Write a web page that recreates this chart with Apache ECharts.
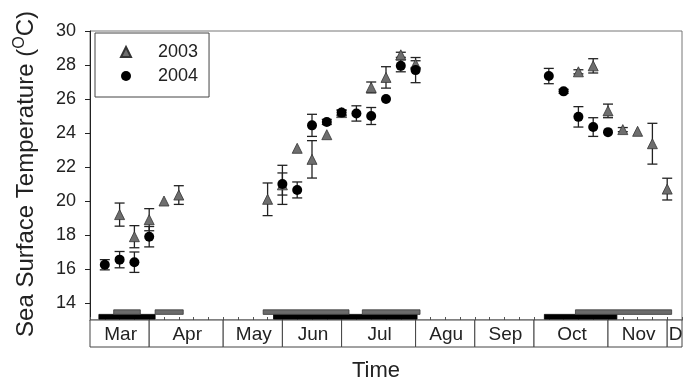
<!DOCTYPE html>
<html lang="en">
<head>
    <meta charset="UTF-8">
    <title>Sea Surface Temperature</title>
    <style>
        * { margin: 0; padding: 0; }
        html, body { width: 100%; height: 100%; background: #fff; }
        #charts { width: 689px; height: 385px; }
    </style>
    <script src="https://cdn.jsdelivr.net/npm/echarts@6/dist/echarts.min.js"></script>
</head>
<body>
<div id="charts"></div>
<script>
    // x axis is in weeks from 1 March
    var monthNames = ['Mar', 'Apr', 'May', 'Jun', 'Jul', 'Agu', 'Sep', 'Oct', 'Nov', 'D'];
    var monthStarts = [0, 4, 9, 13, 17, 22, 26, 30, 35, 39];
    var weekMax = 40;
    var yTicks = [14, 16, 18, 20, 22, 24, 26, 28, 30];

    // 2003 (triangles)
    var weeks2003 = [2, 3, 4, 5, 6, 12, 13, 14, 15, 16, 17, 19, 20, 21, 22, 33, 34, 35, 36, 37, 38, 39];
    var temp2003 = [19.2, 17.9, 18.9, 20.0, 20.35, 20.1, 20.95, 23.1, 22.45, 23.9, 25.2, 26.68, 27.27, 28.6, 28.05, 27.6, 27.95, 25.3, 24.2, 24.1, 23.37, 20.7];
    var se2003 = [0.68, 0.65, 0.65, 0, 0.55, 0.96, 1.15, 0, 1.1, 0, 0.15, 0.32, 0.63, 0.15, 0.2, 0.12, 0.42, 0.4, 0.12, 0, 1.2, 0.64];

    // 2004 (circles)
    var weeks2004 = [1, 2, 3, 4, 13, 14, 15, 16, 17, 18, 19, 20, 21, 22, 31, 32, 33, 34, 35];
    var temp2004 = [16.25, 16.55, 16.4, 17.9, 21.0, 20.65, 24.45, 24.65, 25.2, 25.15, 25.0, 26.0, 27.95, 27.7, 27.35, 26.45, 24.95, 24.35, 24.05];
    var se2004 = [0.3, 0.48, 0.6, 0.6, 0.65, 0.47, 0.65, 0.15, 0.15, 0.45, 0.5, 0, 0.35, 0.74, 0.45, 0.12, 0.6, 0.55, 0];

    // sampling periods shown as bars above the time axis
    var period2003 = [[1.6, 3.4], [4.4, 6.3], [11.7, 17.5], [18.4, 22.3], [32.8, 39.3]];
    var period2004 = [[0.6, 4.4], [12.4, 22.1], [30.7, 35.6]];

    var font = '"Liberation Sans", Arial, sans-serif';

    function points(weeks, temps) {
        var out = [];
        for (var i = 0; i < weeks.length; i++) out.push([weeks[i], temps[i]]);
        return out;
    }
    function errors(weeks, temps, se) {
        var out = [];
        for (var i = 0; i < weeks.length; i++) {
            if (se[i] > 0) out.push([weeks[i], temps[i] - se[i], temps[i] + se[i]]);
        }
        return out;
    }

    function renderError(params, api) {
        var top = api.coord([api.value(0), api.value(2)]);
        var bot = api.coord([api.value(0), api.value(1)]);
        var w = 5;
        var st = { stroke: '#222', lineWidth: 1.3 };
        return {
            type: 'group',
            children: [
                { type: 'line', shape: { x1: top[0], y1: top[1], x2: bot[0], y2: bot[1] }, style: st },
                { type: 'line', shape: { x1: top[0] - w, y1: top[1], x2: top[0] + w, y2: top[1] }, style: st },
                { type: 'line', shape: { x1: bot[0] - w, y1: bot[1], x2: bot[0] + w, y2: bot[1] }, style: st }
            ]
        };
    }

    function periodRender(lo, hi, fill, stroke) {
        return function (params, api) {
            var p0 = api.coord([api.value(0), hi]);
            var p1 = api.coord([api.value(1), lo]);
            return {
                type: 'rect',
                shape: { x: p0[0], y: p0[1], width: p1[0] - p0[0], height: p1[1] - p0[1] },
                style: { fill: fill, stroke: stroke, lineWidth: 0.8 }
            };
        };
    }

    var monthData = [];
    for (var m = 0; m < monthNames.length; m++) {
        var end = m + 1 < monthStarts.length ? monthStarts[m + 1] : weekMax;
        monthData.push([monthStarts[m], end, monthNames[m]]);
    }

    function renderMonth(params, api) {
        var p0 = api.coord([api.value(0), 1]);
        var p1 = api.coord([api.value(1), 0]);
        return {
            type: 'group',
            children: [
                {
                    type: 'rect',
                    shape: { x: p0[0], y: p0[1], width: p1[0] - p0[0], height: p1[1] - p0[1] },
                    style: { fill: '#fff', stroke: '#444', lineWidth: 1 }
                },
                {
                    type: 'text',
                    x: (p0[0] + p1[0]) / 2 + 1,
                    y: (p0[1] + p1[1]) / 2 + 1,
                    style: {
                        text: monthData[params.dataIndex][2],
                        font: '19px ' + font,
                        fill: '#222',
                        align: 'center',
                        verticalAlign: 'middle'
                    }
                }
            ]
        };
    }

    var option = {
        backgroundColor: '#fff',
        animation: false,
        grid: [
            { left: 90, right: 7, top: 31, height: 289, show: true, borderColor: '#777', borderWidth: 1 },
            { left: 90, right: 7, top: 320, height: 27 }
        ],
        legend: {
            orient: 'vertical',
            left: 95,
            top: 33,
            padding: [10, 11, 12, 25],
            itemGap: 6,
            itemWidth: 10,
            itemHeight: 10,
            borderColor: '#444',
            borderWidth: 1,
            backgroundColor: '#fff',
            data: ['2003', '2004'],
            textStyle: { fontSize: 18, fontFamily: font, color: '#222', lineHeight: 18, padding: [0, 0, 0, 22] }
        },
        xAxis: [{
            type: 'value',
            gridIndex: 0,
            min: 0,
            max: weekMax,
            interval: 1,
            axisLine: { lineStyle: { color: '#555', width: 1 } },
            axisTick: { inside: true, length: 3, lineStyle: { color: '#555' } },
            axisLabel: { show: false },
            splitLine: { show: false }
        }, {
            type: 'value',
            gridIndex: 1,
            min: 0,
            max: weekMax,
            show: false
        }],
        yAxis: [{
            type: 'value',
            gridIndex: 0,
            min: 13,
            max: 30,
            axisLine: { show: true, lineStyle: { color: '#222', width: 1 } },
            axisTick: { show: true, length: 5, customValues: yTicks, lineStyle: { color: '#222' } },
            axisLabel: { customValues: yTicks, margin: 14, fontSize: 18, fontFamily: font, color: '#222' },
            splitLine: { show: false }
        }, {
            type: 'value',
            gridIndex: 1,
            min: 0,
            max: 1,
            show: false
        }],
        graphic: [{
            type: 'text',
            x: 26,
            y: 174,
            rotation: Math.PI / 2,
            style: {
                text: 'Sea Surface Temperature ({sup|O}C)',
                font: '24px ' + font,
                fill: '#222',
                align: 'center',
                verticalAlign: 'middle',
                rich: {
                    sup: { fontSize: 16, fontFamily: font, verticalAlign: 'top', lineHeight: 28 }
                }
            }
        }, {
            type: 'text',
            x: 376,
            y: 371,
            style: {
                text: 'Time',
                font: '22px ' + font,
                fill: '#222',
                align: 'center',
                verticalAlign: 'middle'
            }
        }],
        series: [{
            name: 'months',
            type: 'custom',
            xAxisIndex: 1,
            yAxisIndex: 1,
            renderItem: renderMonth,
            data: monthData.map(function (d) { return [d[0], d[1]]; })
        }, {
            name: 'period 2004',
            type: 'custom',
            renderItem: periodRender(13.05, 13.33, '#000', '#000'),
            data: period2004,
            z: 1
        }, {
            name: 'period 2003',
            type: 'custom',
            renderItem: periodRender(13.33, 13.6, '#6b6b6b', '#3a3a3a'),
            data: period2003,
            z: 1
        }, {
            name: 'err 2003',
            type: 'custom',
            renderItem: renderError,
            data: errors(weeks2003, temp2003, se2003),
            z: 2
        }, {
            name: 'err 2004',
            type: 'custom',
            renderItem: renderError,
            data: errors(weeks2004, temp2004, se2004),
            z: 2
        }, {
            name: '2003',
            type: 'scatter',
            symbol: 'triangle',
            symbolSize: 10,
            itemStyle: { color: '#6e6e6e', borderColor: '#333', borderWidth: 0.8, opacity: 1 },
            data: points(weeks2003, temp2003),
            z: 3
        }, {
            name: '2004',
            type: 'scatter',
            symbol: 'circle',
            symbolSize: 10,
            itemStyle: { color: '#000', opacity: 1 },
            data: points(weeks2004, temp2004),
            z: 4
        }]
    };

    var myChart = echarts.init(document.getElementById('charts'));
    myChart.setOption(option);
</script>
</body>
</html>
